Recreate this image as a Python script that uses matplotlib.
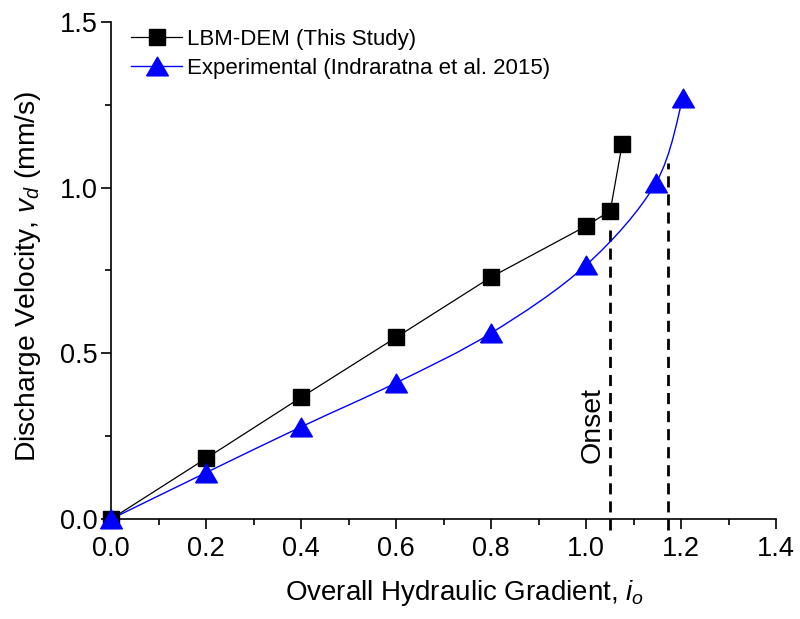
import numpy as np
import matplotlib
matplotlib.use('Agg')
import matplotlib.pyplot as plt
from matplotlib.path import Path
from matplotlib.patches import PathPatch
from matplotlib.lines import Line2D

plt.rcParams['font.family'] = ['Liberation Sans', 'DejaVu Sans']
plt.rcParams['mathtext.fontset'] = 'custom'
plt.rcParams['mathtext.it'] = 'Liberation Sans:italic'
plt.rcParams['mathtext.rm'] = 'Liberation Sans'

# LBM-DEM (this study)
gradient_lbm = [0.0, 0.2, 0.4, 0.6, 0.8, 1.0, 1.051, 1.076]
velocity_lbm = [0.0, 0.183, 0.367, 0.548, 0.730, 0.884, 0.930, 1.131]

# Experimental (Indraratna et al. 2015)
gradient_exp = [0.0, 0.2, 0.4, 0.6, 0.8, 1.0, 1.147, 1.204]
velocity_exp = [0.0, 0.140, 0.278, 0.411, 0.561, 0.766, 1.014, 1.271]

# onset markers
onset_x = [1.051, 1.173]
onset_top = [0.893, 1.075]

xticks = [0.0, 0.2, 0.4, 0.6, 0.8, 1.0, 1.2, 1.4]
yticks = [0.0, 0.5, 1.0, 1.5]


def smooth_path(x, y):
    # catmull-rom curve drawn as cubic bezier segments
    p = np.column_stack([x, y])
    n = len(p)
    verts = [p[0]]
    codes = [Path.MOVETO]
    for i in range(n - 1):
        p0 = p[i - 1] if i > 0 else p[i]
        p3 = p[i + 2] if i + 2 < n else p[i + 1]
        c1 = p[i] + (p[i + 1] - p0) / 6.0
        c2 = p[i + 1] - (p3 - p[i]) / 6.0
        verts += [c1, c2, p[i + 1]]
        codes += [Path.CURVE4] * 3
    return Path(verts, codes)


fig = plt.figure(figsize=(8, 6.19), dpi=100)
ax = fig.add_axes([0.139, 0.1616, 0.831, 0.8029])

ax.plot(gradient_lbm, velocity_lbm, '-', color='black', linewidth=0.9, zorder=3)
ax.plot(gradient_lbm, velocity_lbm, 's', color='black', markersize=12.2, zorder=4,
        clip_on=False)

ax.add_patch(PathPatch(smooth_path(gradient_exp, velocity_exp), facecolor='none',
                       edgecolor='blue', linewidth=1.0, zorder=3))
tri = [(-1.1, -0.95), (1.1, -0.95), (0, 0.95), (-1.1, -0.95)]
ax.plot(gradient_exp, velocity_exp, linestyle='none', marker=tri, color='blue',
        markersize=15.6, zorder=5, clip_on=False)

for xo, top in zip(onset_x, onset_top):
    ax.plot([xo, xo], [-0.033, top], color='black', linewidth=2, dashes=(4, 2.5),
            clip_on=False, zorder=2)

ax.text(1.014, 0.284, 'Onset', rotation=90, fontsize=20.5, ha='center', va='center')

ax.set_xlim(0, 1.4)
ax.set_ylim(0, 1.5)
ax.set_xticks(xticks)
ax.set_yticks(yticks)
ax.set_xticklabels([f'{v:.1f}' for v in xticks])
ax.set_yticklabels([f'{v:.1f}' for v in yticks])
ax.set_xticks(np.arange(0.1, 1.4, 0.2), minor=True)
ax.set_yticks([0.25, 0.75, 1.25], minor=True)
ax.tick_params(which='major', direction='out', length=7, width=1.2, labelsize=19.5)
ax.tick_params(axis='x', which='major', pad=5)
ax.tick_params(axis='y', which='major', pad=3)
ax.tick_params(which='minor', direction='out', length=4, width=1.2)
ax.spines['top'].set_visible(False)
ax.spines['right'].set_visible(False)
ax.spines['left'].set_linewidth(1.2)
ax.spines['bottom'].set_linewidth(1.2)

ax.set_xlabel('Overall Hydraulic Gradient, $i_o$', fontsize=20, labelpad=16)
ax.set_ylabel('Discharge Velocity, $v_d$ (mm/s)', fontsize=20.3)
ax.xaxis.set_label_coords(0.532, -0.118)
ax.yaxis.set_label_coords(-0.103, 0.489)

handles = [
    Line2D([], [], color='black', linewidth=0.9, marker='s', markersize=12.2),
    Line2D([], [], color='blue', linewidth=1.0, marker=tri, markersize=15.6),
]
ax.legend(handles, ['LBM-DEM (This Study)', 'Experimental (Indraratna et al. 2015)'],
          loc='upper left', bbox_to_anchor=(0.0, 1.027), frameon=False, fontsize=16,
          handlelength=2.3, handletextpad=0.2, labelspacing=0.38, borderaxespad=0.5)

fig.savefig('out.png', dpi=100)
